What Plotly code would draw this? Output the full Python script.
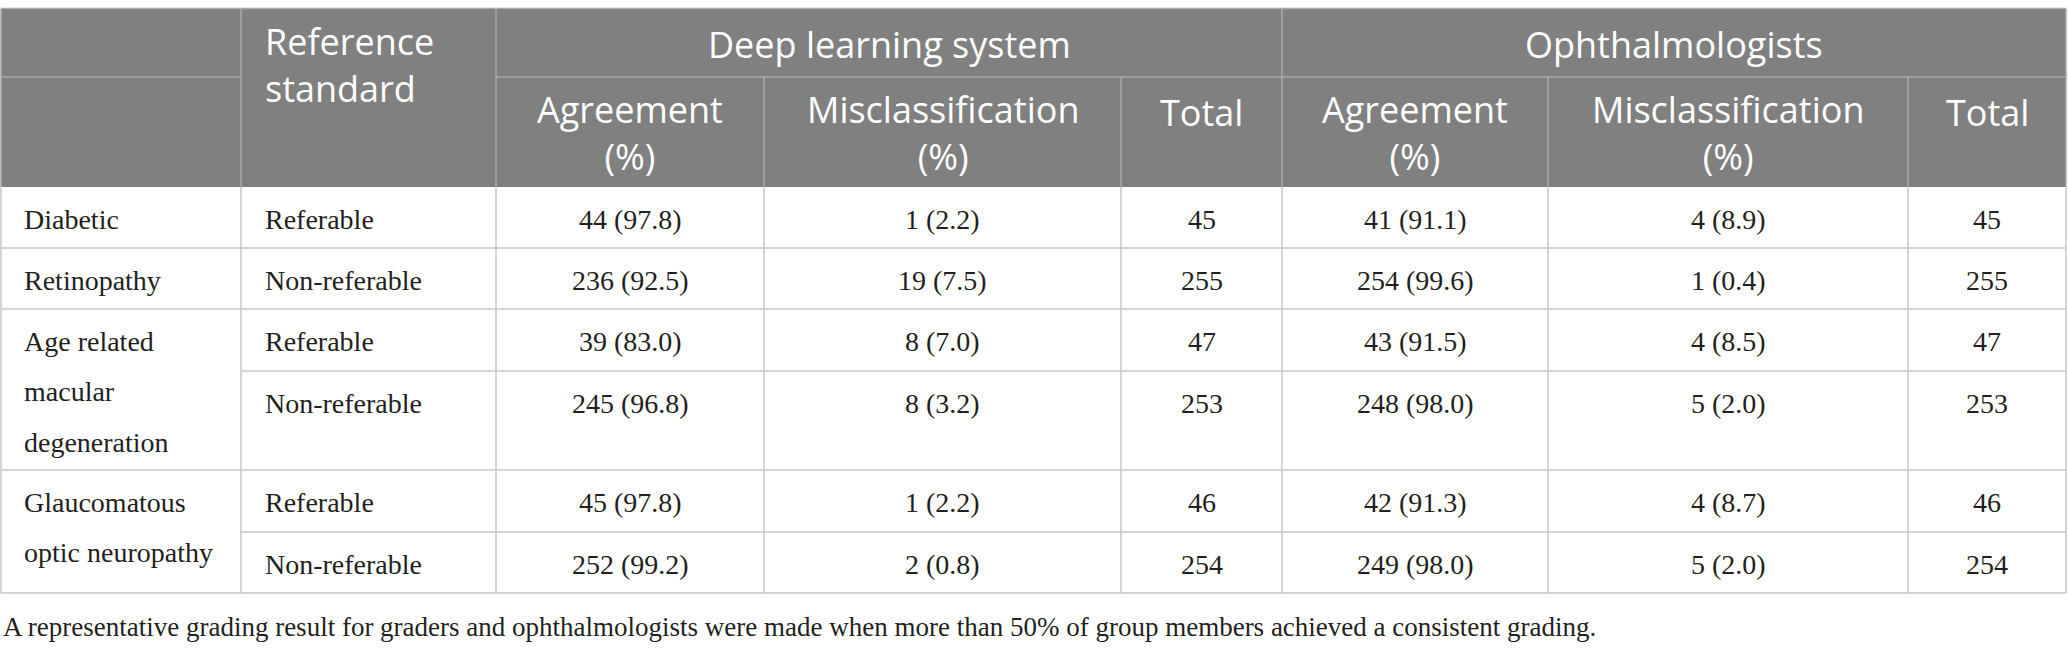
import itertools
import plotly.graph_objects as go

# ------------------------------------------------------------------ data
disease_labels = ["Diabetic", "Retinopathy", "Age related\nmacular\ndegeneration",
                  "Glaucomatous\noptic neuropathy"]
disease_row_span = [1, 1, 2, 2]
reference_standard = ["Referable", "Non-referable", "Referable", "Non-referable",
                      "Referable", "Non-referable"]

dl_agree_n = [44, 236, 39, 245, 45, 252]
dl_agree_pct = [97.8, 92.5, 83.0, 96.8, 97.8, 99.2]
dl_mis_n = [1, 19, 8, 8, 1, 2]
dl_mis_pct = [2.2, 7.5, 7.0, 3.2, 2.2, 0.8]
dl_total = [45, 255, 47, 253, 46, 254]

oph_agree_n = [41, 254, 43, 248, 42, 249]
oph_agree_pct = [91.1, 99.6, 91.5, 98.0, 91.3, 98.0]
oph_mis_n = [4, 1, 4, 5, 4, 5]
oph_mis_pct = [8.9, 0.4, 8.5, 2.0, 8.7, 2.0]
oph_total = [45, 255, 47, 253, 46, 254]

ref_header = "Reference\nstandard"
group_labels = ["Deep learning system", "Ophthalmologists"]
sub_labels = ["Agreement\n(%)", "Misclassification\n(%)", "Total"]
caption = ("A representative grading result for graders and ophthalmologists were made "
           "when more than 50% of group members achieved a consistent grading.")

# ------------------------------------------------------------------ layout constants
W, H = 2068, 650
X0 = 1
col_widths = [240, 255, 268, 357, 161, 266, 360, 158]
Y_TOP = 8.5
head_heights = [68.5, 110]
body_heights = [61, 61, 62, 99, 62, 61]

HEAD_BG = "#808080"
HEAD_LINE = "#a9a9a9"
BODY_LINE = "#c6c6c6"
TEXT = "#231f20"
HEAD_SIZE = 36
HEAD_FONT = dict(family="Open Sans", size=HEAD_SIZE, color="white")
BODY_FONT = dict(family="Liberation Serif", size=28, color=TEXT)
CAP_FONT = dict(family="Liberation Serif", size=27, color=TEXT)
LW = 1.5
HEAD_PAD = 35.5    # offset of first text line centre from cell top
HEAD_ML_SHIFT = -2.5  # small lift for two-line header labels
BODY_PAD = 32      # offset of first text line centre from cell top
BODY_LH = 50.5     # body line spacing
TEXT_PADX = 22

col_edges = list(itertools.accumulate([X0] + col_widths))
head_edges = list(itertools.accumulate([Y_TOP] + head_heights))
body_edges = list(itertools.accumulate([head_edges[-1]] + body_heights))
X_END = col_edges[-1]

fig = go.Figure()


def hline(y, xa, xb, color):
    fig.add_shape(type="line", xref="x", yref="y", x0=xa, x1=xb, y0=y, y1=y,
                  line=dict(color=color, width=LW), layer="above")


def vline(x, ya, yb, color):
    fig.add_shape(type="line", xref="x", yref="y", x0=x, x1=x, y0=ya, y1=yb,
                  line=dict(color=color, width=LW), layer="above")


def head_text(text, x, top, anchor):
    lines = text.split("\n")
    lh = 1.3 * HEAD_SIZE
    mid = top + HEAD_PAD + (len(lines) - 1) * (lh / 2 + HEAD_ML_SHIFT)
    fig.add_annotation(x=x, y=mid, xref="x", yref="y", text="<br>".join(lines),
                       showarrow=False, xanchor=anchor, yanchor="middle", align=anchor,
                       font=HEAD_FONT)


def body_text(text, x, top, anchor):
    for k, line in enumerate(text.split("\n")):
        fig.add_annotation(x=x, y=top + BODY_PAD + k * BODY_LH, xref="x", yref="y",
                           text=line, showarrow=False, xanchor=anchor, yanchor="middle",
                           font=BODY_FONT)


# header background
fig.add_shape(type="rect", xref="x", yref="y", x0=col_edges[0], x1=X_END,
              y0=head_edges[0], y1=head_edges[-1], fillcolor=HEAD_BG,
              line=dict(width=0), layer="below")

# header grid
hline(head_edges[0], col_edges[0], X_END, HEAD_LINE)
hline(head_edges[1], col_edges[0], col_edges[1], HEAD_LINE)
hline(head_edges[1], col_edges[2], X_END, HEAD_LINE)
for j in [0, 1, 2, 5, 8]:
    vline(col_edges[j], head_edges[0], head_edges[-1], HEAD_LINE)
for j in [3, 4, 6, 7]:
    vline(col_edges[j], head_edges[1], head_edges[-1], HEAD_LINE)

# header texts
head_text(ref_header, col_edges[1] + TEXT_PADX, head_edges[0], "left")
for g, label in enumerate(group_labels):
    xa, xb = col_edges[2 + 3 * g], col_edges[5 + 3 * g]
    head_text(label, (xa + xb) / 2, head_edges[0], "center")
    for s, sub in enumerate(sub_labels):
        c = 2 + 3 * g + s
        head_text(sub, (col_edges[c] + col_edges[c + 1]) / 2, head_edges[1], "center")

# body grid
for j in range(len(col_edges)):
    vline(col_edges[j], body_edges[0], body_edges[-1], BODY_LINE)
for i in range(1, len(body_edges)):
    hline(body_edges[i], col_edges[1], X_END, BODY_LINE)
for e in itertools.accumulate(disease_row_span):
    hline(body_edges[e], col_edges[0], col_edges[1], BODY_LINE)

# body texts
start = 0
for label, span in zip(disease_labels, disease_row_span):
    body_text(label, col_edges[0] + TEXT_PADX - 1, body_edges[start], "left")
    start += span

columns = [
    [f"{n} ({p:.1f})" for n, p in zip(dl_agree_n, dl_agree_pct)],
    [f"{n} ({p:.1f})" for n, p in zip(dl_mis_n, dl_mis_pct)],
    [str(t) for t in dl_total],
    [f"{n} ({p:.1f})" for n, p in zip(oph_agree_n, oph_agree_pct)],
    [f"{n} ({p:.1f})" for n, p in zip(oph_mis_n, oph_mis_pct)],
    [str(t) for t in oph_total],
]
for i, ref in enumerate(reference_standard):
    top = body_edges[i]
    body_text(ref, col_edges[1] + TEXT_PADX, top, "left")
    for c, col in enumerate(columns):
        body_text(col[i], (col_edges[2 + c] + col_edges[3 + c]) / 2, top, "center")

# caption
fig.add_annotation(x=X0, y=body_edges[-1] + 34, xref="x", yref="y", text=caption,
                   showarrow=False, xanchor="left", yanchor="middle", font=CAP_FONT)

fig.update_xaxes(range=[0, W], visible=False, fixedrange=True)
fig.update_yaxes(range=[H, 0], visible=False, fixedrange=True)
fig.update_layout(width=W, height=H, margin=dict(l=0, r=0, t=0, b=0),
                  plot_bgcolor="white", paper_bgcolor="white", showlegend=False)

# remove the browser's default 8 px page margin so the figure fills the window
fig.write_html("out.html", config={"displayModeBar": False},
               post_script="document.body.style.margin='0px';")
